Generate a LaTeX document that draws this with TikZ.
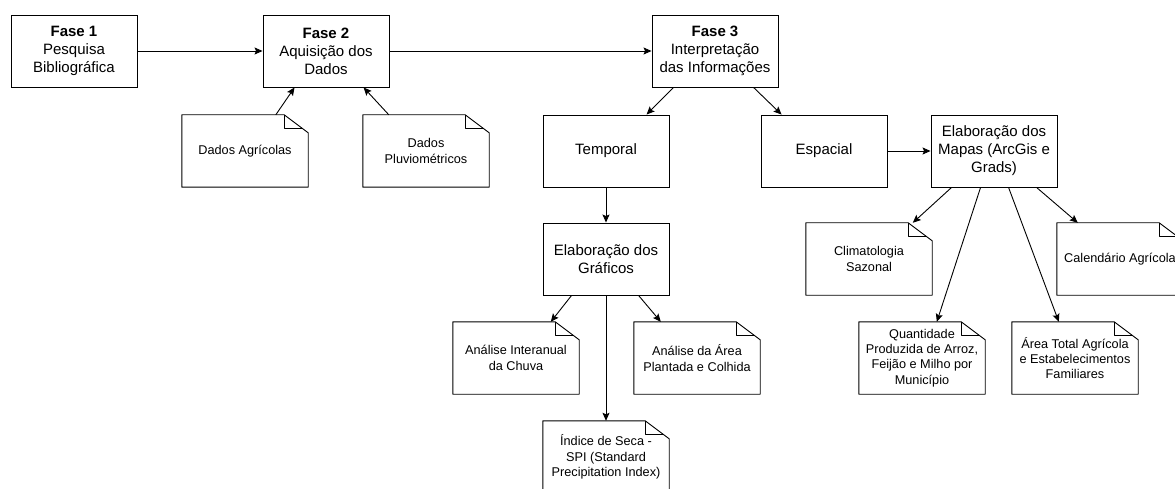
\documentclass[tikz,border=0pt]{standalone}
\usepackage{fontspec}
\setmainfont{Liberation Sans}
\usetikzlibrary{calc,arrows.meta}
\tikzset{
  box/.style={draw, line width=0.9pt, minimum width=126pt, minimum height=72pt, inner sep=0pt, align=center, font=\fontsize{15}{18}\selectfont},
  notetext/.style={minimum width=126pt, minimum height=72pt, inner sep=0pt, align=center, font=\fontsize{12.7}{15.3}\selectfont},
  noteline/.style={line width=0.9pt, line join=round},
  arr/.style={-{Stealth[length=8pt,width=7pt,inset=1.5pt]}, line width=0.9pt},
}
\newcommand\notenode[3]{%
  \node[notetext] (#1) at (#2) {#3};
  \draw[noteline] (#1.north west) -- ($(#1.north east)+(-24,0)$) -- ($(#1.north east)+(0,18)$) -- (#1.south east) -- (#1.south west) -- cycle;
  \draw[noteline] ($(#1.north east)+(-24,0)$) -- ($(#1.north east)+(-24,14)$) -- ($(#1.north east)+(-5.3,14)$);
}
\begin{document}
\begin{tikzpicture}[x=1pt,y=-1pt]
\useasboundingbox (0,0) rectangle (1175,489);
\clip (0,0) rectangle (1175,489);

% main boxes
\node[box] (f1) at (74,51) {\textbf{Fase 1}\\Pesquisa\\Bibliográfica};
\node[box] (f2) at (326,51) {\textbf{Fase 2}\\Aquisição dos\\Dados};
\node[box] (f3) at (715,51) {\textbf{Fase 3}\\Interpretação\\das Informações};
\node[box] (tem) at (606,151) {Temporal};
\node[box] (esp) at (824,151) {Espacial};
\node[box] (map) at (994,151) {Elaboração dos\\Mapas (ArcGis e\\Grads)};
\node[box] (gra) at (606,259) {Elaboração dos\\Gráficos};

% notes
\notenode{dag}{245,151}{Dados Agrícolas}
\notenode{dpl}{426,151}{Dados\\Pluviométricos}
\notenode{cli}{869,259}{Climatologia\\Sazonal}
\notenode{cal}{1120,259}{Calendário Agrícola}
\notenode{int}{516,358}{Análise Interanual\\da Chuva}
\notenode{apl}{697,358}{Análise da Área\\Plantada e Colhida}
\notenode{qua}{922,358}{Quantidade\\Produzida de Arroz,\\Feijão e Milho por\\Município}
\notenode{ato}{1075,358}{Área Total Agrícola\\e Estabelecimentos\\Familiares}
\notenode{ind}{606,457}{Índice de Seca -\\SPI (Standard\\Precipitation Index)}

% connectors
\draw[arr] (f1.east) -- (f2.west);
\draw[arr] (f2.east) -- (f3.west);
\draw[arr] ($(dag.north west)+(94,0)$) -- ($(f2.south west)+(32,0)$);
\draw[arr] ($(dpl.north west)+(26,0)$) -- ($(f2.south west)+(101,0)$);
\draw[arr] ($(f3.south west)+(22,0)$) -- ($(tem.north west)+(104,0)$);
\draw[arr] ($(f3.south west)+(102,0)$) -- ($(esp.north west)+(21,0)$);
\draw[arr] (esp.east) -- (map.west);
\draw[arr] (tem.south) -- (gra.north);
\draw[arr] ($(gra.south west)+(29,0)$) -- ($(int.north west)+(98,0)$);
\draw[arr] ($(gra.south west)+(96,0)$) -- ($(apl.north west)+(27,0)$);
\draw[arr] (gra.south) -- (ind.north);
\draw[arr] ($(map.south west)+(21,0)$) -- ($(cli.north west)+(107,0)$);
\draw[arr] ($(map.south west)+(106,0)$) -- ($(cal.north west)+(21,0)$);
\draw[arr] ($(map.south west)+(50,0)$) -- ($(qua.north west)+(78,0)$);
\draw[arr] ($(map.south west)+(78,0)$) -- ($(ato.north west)+(47,0)$);
\end{tikzpicture}
\end{document}
